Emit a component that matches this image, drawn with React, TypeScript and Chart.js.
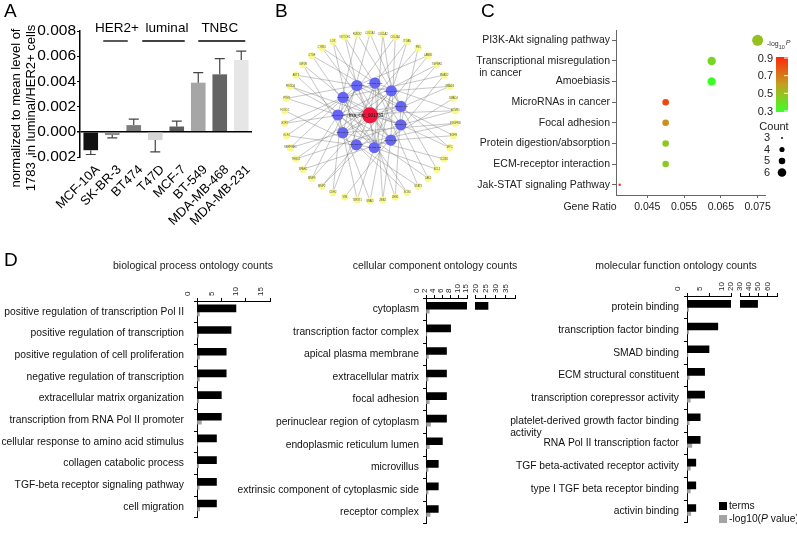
import React, { useEffect, useRef } from 'react';
import { Chart, registerables } from 'chart.js';

Chart.register(...registerables);

const FONT = 'Arial, "Liberation Sans", Helvetica, sans-serif';
Chart.defaults.font.family = FONT;
Chart.defaults.color = '#000';

// ---------------- Panel A data ----------------
const cellLines = ['MCF-10A', 'SK-BR-3', 'BT474', 'T47D', 'MCF-7', 'BT-549', 'MDA-MB-468', 'MDA-MB-231'];
const expression = [-0.00146, -0.00026, 0.00053, -0.00066, 0.00042, 0.0039, 0.00456, 0.0057];
const expressionErr = [0.00034, 0.00022, 0.00047, 0.00094, 0.00043, 0.0008, 0.00124, 0.0007];
const barColors = ['#111111', '#8c8c8c', '#7c7c7c', '#d6d6d6', '#5c5c5c', '#a6a6a6', '#646464', '#e6e6e6'];
const subtypeNames = ['HER2+', 'luminal', 'TNBC'];
const subtypeFirst = [1, 3, 5];
const subtypeLast = [2, 4, 7];
const expressionTicks = [-0.002, 0, 0.002, 0.004, 0.006, 0.008];
const yTitleA = ['normalized to mean level of', '1783  in luminal/HER2+ cells'];

// ---------------- Panel B data ----------------
const circRNA = 'hsa_circ_001783';
const miRNAs = ['hsa-miR-200a', 'hsa-miR-200b', 'hsa-miR-200c', 'hsa-miR-141', 'hsa-miR-429', 'hsa-miR-205',
  'hsa-miR-182', 'hsa-miR-183', 'hsa-miR-96', 'hsa-miR-155', 'hsa-miR-21'];
const targetGenes = ['COL1A1', 'COL1A2', 'COL4A1', 'ITGA5', 'FN1', 'LAMB1', 'TGFBR1', 'SMAD2', 'SMAD3', 'SMAD4',
  'ACVR1', 'PDGFRB', 'EGFR', 'MYC', 'CCND1', 'BCL2', 'JAK1', 'STAT3', 'SOX4', 'ZEB1', 'ZEB2', 'SNAI1', 'TWIST1',
  'VIM', 'CDH2', 'MMP2', 'MMP9', 'SPARC', 'THBS1', 'SERPINE1', 'KLF4', 'E2F3', 'FOXO1', 'PTEN', 'PIK3CA', 'AKT3',
  'IGF1R', 'CTGF', 'CYR61', 'LOX', 'NOTCH1', 'RUNX2'];
const geneLinks = [
  [3, 8], [2, 6], [5, 9], [1, 6], [4, 8], [0, 7], [3, 9], [5, 10], [2, 8], [6],
  [1, 4, 9], [7, 8], [0, 5], [3, 10], [8], [2, 6], [4, 9], [1, 7], [7, 10], [0, 3],
  [5, 1], [2, 9], [6, 8], [4], [1, 10], [3, 7], [0, 2], [5, 9], [2, 4], [8, 0],
  [6, 10], [1, 3], [7], [0, 9], [4, 5], [2, 6], [8, 10], [3, 6], [1, 5], [5, 7],
  [0, 4], [9, 3]
];

// ---------------- Panel C data ----------------
const pathways = ['PI3K-Akt signaling pathway', 'Transcriptional misregulation\nin cancer', 'Amoebiasis',
  'MicroRNAs in cancer', 'Focal adhesion', 'Protein digestion/absorption', 'ECM-receptor interaction',
  'Jak-STAT signaling Pathway'];
const geneRatio = [0.075, 0.0625, 0.0625, 0.05, 0.05, 0.05, 0.05, 0.0375];
const pathwayCount = [6, 5, 5, 4, 4, 4, 4, 3];
const pathwayLogP = [0.5, 0.43, 0.3, 0.82, 0.64, 0.47, 0.47, 0.9];
const ratioTicks = [0.045, 0.055, 0.065, 0.075];
const logPTicks = [0.9, 0.7, 0.5, 0.3];
const countLegend = [3, 4, 5, 6];

// ---------------- Panel D data ----------------
const bpTerms = ['positive regulation of transcription Pol II', 'positive regulation of transcription',
  'positive regulation of cell proliferation', 'negative regulation of transcription',
  'extracellular matrix organization', 'transcription from RNA Pol II promoter',
  'cellular response to amino acid stimulus', 'collagen catabolic process',
  'TGF-beta receptor signaling pathway', 'cell migration'];
const bpCounts = [8, 7, 6, 6, 5, 5, 4, 4, 4, 4];
const bpLogP = [0.5, 0.35, 0.5, 0.5, 0.35, 0.9, 0.15, 0.35, 0.45, 0.55];

const ccTerms = ['cytoplasm', 'transcription factor complex', 'apical plasma membrane', 'extracellular matrix',
  'focal adhesion', 'perinuclear region of cytoplasm', 'endoplasmic reticulum lumen', 'microvillus',
  'extrinsic component of cytoplasmic side', 'receptor complex'];
const ccCounts = [21.5, 6, 5, 5, 5, 5, 4, 3, 3, 3];
const ccLogP = [0.8, 0.2, 0.6, 0.5, 0.8, 1.1, 0.8, 0.5, 0.5, 1.0];

const mfTerms = ['protein binding', 'transcription factor binding', 'SMAD binding', 'ECM structural constituent',
  'transcription corepressor activity', 'platelet-derived growth factor binding\nactivity',
  'RNA Pol II transcription factor', 'TGF beta-activated receptor activity', 'type I TGF beta receptor binding',
  'activin binding'];
const mfCounts = [39, 7, 5, 4, 4, 3, 3, 2, 2, 2];
const mfLogP = [0.35, 0.35, 0.2, 0.5, 0.75, 0.5, 1.1, 0.75, 0.75, 0.85];

const legendD = ['terms', '-log10(P value)'];

// ---------------- helpers ----------------
const fnt = (size: number, style = '') => `${style} ${size}px ${FONT}`.trim();

function text(ctx: any, s: string, x: number, y: number, size: number, align = 'left', base = 'middle', color = '#000', style = '') {
  ctx.save();
  ctx.font = fnt(size, style);
  ctx.fillStyle = color;
  ctx.textAlign = align;
  ctx.textBaseline = base;
  ctx.fillText(s, x, y);
  ctx.restore();
}

const GREEN = [60, 255, 40];
const MID = [195, 160, 30];
const RED = [255, 40, 10];
function logPColor(v: number) {
  const t = Math.max(0, Math.min(1, (v - 0.3) / 0.6));
  let a = GREEN, b = MID, u = t * 2;
  if (t > 0.5) { a = MID; b = RED; u = (t - 0.5) * 2; }
  const c = a.map((x, i) => Math.round(x + (b[i] - x) * u));
  return `rgb(${c[0]},${c[1]},${c[2]})`;
}
function countRadius(c: number) {
  return c <= 3 ? 1.2 : c === 4 ? 3.3 : c === 5 ? 4.2 : 5.5;
}

const base = (extra: any) => ({
  responsive: false,
  animation: false,
  events: [],
  devicePixelRatio: 1,
  plugins: { legend: { display: false }, tooltip: { enabled: false }, title: { display: false } },
  ...extra,
});

// ---------------- Panel A ----------------
// pixel offsets of the subtype bracket ends relative to the first/last bar centres
const bracketOffsets = [[-9, -6], [-13, 8], [0, 4]];
const bracketLabelShift = [-6, 1, 0];

const panelAPlugin = {
  id: 'panelA',
  afterDatasetsDraw(chart: any) {
    const ctx = chart.ctx;
    const meta = chart.getDatasetMeta(0);
    const ys = chart.scales.y;
    ctx.save();
    ctx.strokeStyle = '#444';
    ctx.lineWidth = 1.2;
    meta.data.forEach((bar: any, i: number) => {
      const v = expression[i];
      const end = v >= 0 ? v + expressionErr[i] : v - expressionErr[i];
      const y0 = ys.getPixelForValue(v);
      const y1 = ys.getPixelForValue(end);
      ctx.beginPath();
      ctx.moveTo(bar.x, y0); ctx.lineTo(bar.x, y1);
      ctx.moveTo(bar.x - 5, y1); ctx.lineTo(bar.x + 5, y1);
      ctx.stroke();
    });
    ctx.restore();
  },
  afterDraw(chart: any) {
    const ctx = chart.ctx;
    const meta = chart.getDatasetMeta(0);
    text(ctx, 'A', 4, 2, 19, 'left', 'top');
    subtypeNames.forEach((g, i) => {
      const xa = meta.data[subtypeFirst[i]].x;
      const xb = meta.data[subtypeLast[i]].x;
      const x1 = xa + bracketOffsets[i][0];
      const x2 = xb + bracketOffsets[i][1];
      ctx.save();
      ctx.strokeStyle = '#000'; ctx.lineWidth = 1.3;
      ctx.beginPath(); ctx.moveTo(x1, 41); ctx.lineTo(x2, 41); ctx.stroke();
      ctx.restore();
      text(ctx, g, (xa + xb) / 2 + bracketLabelShift[i], 28, 13.5, 'center', 'middle');
    });
    ctx.save();
    ctx.font = fnt(13);
    ctx.fillStyle = '#000';
    ctx.textAlign = 'center';
    ctx.textBaseline = 'middle';
    [16, 31].forEach((x, i) => {
      ctx.save();
      ctx.translate(x, 108);
      ctx.rotate(-Math.PI / 2);
      ctx.fillText(yTitleA[i], 0, 0);
      ctx.restore();
    });
    ctx.restore();
  },
};

const isZero = (c: any) => c.tick && Math.abs(c.tick.value) < 1e-9;

function configA() {
  return {
    type: 'bar',
    data: {
      labels: cellLines,
      datasets: [{ data: expression, backgroundColor: barColors, borderWidth: 0, categoryPercentage: 1, barPercentage: 0.68 }],
    },
    options: base({
      layout: { padding: { left: 0, right: 13, top: 31, bottom: 0 } },
      scales: {
        x: {
          grid: { display: false, drawTicks: false },
          border: { display: false },
          ticks: { minRotation: 45, maxRotation: 45, autoSkip: false, font: { size: 13 }, padding: 5, labelOffset: 7 },
          afterFit: (s: any) => { s.height = 105; },
        },
        y: {
          min: -0.002, max: 0.008,
          afterBuildTicks: (s: any) => { s.ticks = expressionTicks.map(v => ({ value: v })); },
          ticks: { font: { size: 15.5 }, padding: 1, callback: (v: any) => Number(v).toFixed(3) },
          grid: {
            color: (c: any) => (isZero(c) ? '#000' : 'rgba(0,0,0,0)'),
            lineWidth: (c: any) => (isZero(c) ? 1.5 : 1),
            tickColor: '#000', tickLength: 3, drawTicks: true,
          },
          border: { display: true, color: '#000', width: 1.5 },
          afterFit: (s: any) => { s.width = 80; },
        },
      },
    }),
    plugins: [panelAPlugin],
  };
}

// ---------------- Panel B ----------------
const RX = 1.023, RY = 0.99, RM = 0.385, CY = 0.02;
const genePos = targetGenes.map((_, j) => {
  const a = (90 - (j * 360) / targetGenes.length) * Math.PI / 180;
  return { x: RX * Math.cos(a), y: RY * Math.sin(a) };
});
const miPos = miRNAs.map((_, k) => {
  const a = (114 - (k * 360) / miRNAs.length) * Math.PI / 180;
  return { x: RM * Math.cos(a), y: CY + RM * Math.sin(a) };
});
const edgePts: any[] = [];
miPos.forEach(p => { edgePts.push({ x: 0, y: CY }, p, { x: NaN, y: NaN }); });
geneLinks.forEach((links, j) => {
  links.forEach(k => { edgePts.push(genePos[j], miPos[k], { x: NaN, y: NaN }); });
});

const panelBPlugin = {
  id: 'panelB',
  afterDatasetsDraw(chart: any) {
    const ctx = chart.ctx;
    const xs = chart.scales.x, ys = chart.scales.y;
    genePos.forEach((p, j) => text(ctx, targetGenes[j], xs.getPixelForValue(p.x), ys.getPixelForValue(p.y), 2.6, 'center', 'middle', '#555'));
    miPos.forEach((p, k) => text(ctx, miRNAs[k], xs.getPixelForValue(p.x), ys.getPixelForValue(p.y), 2.4, 'center', 'middle', '#222'));
    text(ctx, circRNA, xs.getPixelForValue(0) - 4, ys.getPixelForValue(CY), 4.5, 'center', 'middle', '#111');
  },
  afterDraw(chart: any) {
    text(chart.ctx, 'B', 5, 2, 19, 'left', 'top');
  },
};

function configB() {
  return {
    type: 'scatter',
    data: {
      datasets: [
        { data: [{ x: 0, y: CY }], pointRadius: 8, pointBackgroundColor: '#f2143c', pointBorderWidth: 0 },
        { data: miPos, pointRadius: 5.6, pointBackgroundColor: '#6565f2', pointBorderWidth: 0 },
        { data: genePos, pointRadius: 3.6, pointBackgroundColor: '#fafa8c', pointBorderWidth: 0 },
        { data: edgePts, showLine: true, spanGaps: false, pointRadius: 0, borderColor: 'rgba(120,120,120,0.7)', borderWidth: 0.6 },
      ],
    },
    options: base({
      layout: { padding: 0 },
      scales: {
        x: { display: false, min: -1.1, max: 1.1 },
        y: { display: false, min: -1.287, max: 1.287 },
      },
    }),
    plugins: [panelBPlugin],
  };
}

// ---------------- Panel C ----------------
const panelCPlugin = {
  id: 'panelC',
  afterDraw(chart: any) {
    const ctx = chart.ctx;
    const ys = chart.scales.y;
    text(ctx, 'C', 41, 2, 19, 'left', 'top');
    pathways.forEach((p, i) => {
      const parts = p.split('\n');
      if (parts.length > 1) {
        ctx.save();
        ctx.font = fnt(10.5);
        const right = ys.right - 4 - 2;
        const left = right - ctx.measureText(parts[0]).width;
        ctx.restore();
        text(ctx, parts[1], left + 3, ys.getPixelForValue(i) + 12, 10.5, 'left', 'middle', '#222');
      }
    });
    text(ctx, 'Gene Ratio', 150, 202, 10.5, 'center', 'top', '#222');
    text(ctx, '-log', 327, 44, 7, 'left', 'middle', '#333');
    ctx.save(); ctx.font = fnt(7); const w1 = ctx.measureText('-log').width; ctx.restore();
    text(ctx, '10', 327 + w1, 47, 5.5, 'left', 'middle', '#333');
    text(ctx, 'P', 327 + w1 + 7, 43, 7, 'left', 'middle', '#333', 'italic');
    const g = ctx.createLinearGradient(0, 57, 0, 112);
    [0.9, 0.75, 0.6, 0.45, 0.3].forEach((v, i) => g.addColorStop(i / 4, logPColor(v)));
    ctx.save();
    ctx.fillStyle = g;
    ctx.fillRect(336, 57, 12, 55);
    ctx.strokeStyle = '#fff'; ctx.lineWidth = 1;
    logPTicks.forEach((v) => {
      const y = 57 + ((0.9 - v) / 0.6) * 53 + 1;
      ctx.beginPath(); ctx.moveTo(344, y); ctx.lineTo(348, y); ctx.stroke();
      text(ctx, v.toFixed(1), 333, y + 0.5, 11, 'right', 'middle', '#222');
    });
    ctx.restore();
    text(ctx, 'Count', 334, 127, 11, 'center', 'middle', '#222');
    countLegend.forEach((c, i) => {
      const y = 138 + i * 11.5;
      text(ctx, String(c), 327, y, 11, 'center', 'middle', '#222');
      ctx.save();
      ctx.fillStyle = '#000';
      ctx.beginPath(); ctx.arc(342, y, countRadius(c) * 0.78, 0, Math.PI * 2); ctx.fill();
      ctx.restore();
    });
  },
};

function configC() {
  return {
    type: 'scatter',
    data: {
      datasets: [{
        data: geneRatio.map((r, i) => ({ x: r, y: i })),
        pointRadius: (c: any) => countRadius(pathwayCount[c.dataIndex]),
        pointBackgroundColor: (c: any) => logPColor(pathwayLogP[c.dataIndex]),
        pointBorderWidth: 0,
      }],
    },
    options: base({
      layout: { padding: { left: 0, right: 32, top: 30, bottom: 0 } },
      scales: {
        x: {
          type: 'linear', min: 0.0365, max: 0.077,
          afterBuildTicks: (s: any) => { s.ticks = ratioTicks.map(v => ({ value: v })); },
          ticks: { font: { size: 10.5 }, color: '#222', maxRotation: 0, padding: 3, callback: (v: any) => Number(v).toFixed(3) },
          grid: { display: true, drawOnChartArea: false, drawTicks: true, tickLength: 3, color: '#666' },
          border: { color: '#666', width: 1 },
          afterFit: (s: any) => { s.height = 25; },
        },
        y: {
          type: 'category',
          labels: pathways.map(p => p.split('\n')[0]),
          offset: true,
          ticks: { font: { size: 10.5 }, color: '#222', padding: 2, autoSkip: false },
          grid: { display: true, drawOnChartArea: false, tickLength: 4, color: '#666' },
          border: { color: '#666', width: 1 },
          afterFit: (s: any) => { s.width = 176; },
        },
      },
    }),
    plugins: [panelCPlugin],
  };
}

// ---------------- Panel D ----------------
function ontologyConfig(p: any) {
  return {
    type: 'bar',
    data: {
      labels: p.terms.map((t: string) => t.split('\n')[0]),
      datasets: [
        { label: legendD[0], data: p.counts, backgroundColor: '#000', barThickness: 7, clip: 0 },
        { label: legendD[1], data: p.logP, backgroundColor: '#a3a3a3', barThickness: 4, clip: 0 },
      ],
    },
    options: base({
      indexAxis: 'y',
      layout: { padding: p.padding },
      scales: {
        x: {
          position: 'top', min: p.min, max: p.max,
          ticks: { stepSize: p.step, font: { size: 8 }, color: '#222', minRotation: 90, maxRotation: 90, padding: 2, autoSkip: false },
          grid: { drawOnChartArea: false, tickLength: 3, color: '#000' },
          border: { color: '#000', width: 1 },
          afterFit: (s: any) => { s.height = p.xHeight; },
        },
        y: {
          display: p.showY,
          ticks: { font: { size: 10.3 }, color: '#111', padding: p.labelPad, autoSkip: false },
          grid: { drawOnChartArea: false, tickLength: 3, color: '#000' },
          border: { color: '#000', width: 1 },
          afterFit: (s: any) => { s.width = p.yWidth; },
        },
      },
    }),
    plugins: p.plugins || [],
  };
}

function secondLinePlugin(terms: string[], labelPad: number) {
  return {
    id: 'secondLine',
    afterDraw(chart: any) {
      const ctx = chart.ctx;
      const ys = chart.scales.y;
      terms.forEach((t, i) => {
        const parts = t.split('\n');
        if (parts.length > 1) {
          ctx.save(); ctx.font = fnt(10.3);
          const right = ys.right - 3 - labelPad;
          const left = right - ctx.measureText(parts[0]).width;
          ctx.restore();
          text(ctx, parts[1], left, ys.getPixelForValue(i) + 12, 10.3, 'left', 'middle', '#111');
        }
      });
    },
  };
}

const titleD1 = {
  id: 'titleD1',
  afterDraw(chart: any) {
    text(chart.ctx, 'D', 4, 11, 19, 'left', 'top');
    text(chart.ctx, 'biological process ontology counts', 193, 26, 10.5, 'center', 'middle', '#222');
  },
};
const titleD2 = {
  id: 'titleD2',
  afterDraw(chart: any) {
    text(chart.ctx, 'cellular component ontology counts', 95, 26, 10.5, 'center', 'middle', '#222');
  },
};
const titleD3 = {
  id: 'titleD3',
  afterDraw(chart: any) {
    const ctx = chart.ctx;
    text(ctx, 'molecular function ontology counts', 86, 26, 10.5, 'center', 'middle', '#222');
    ctx.save();
    ctx.fillStyle = '#000'; ctx.fillRect(129, 262, 8, 8);
    ctx.fillStyle = '#a3a3a3'; ctx.fillRect(129, 275, 8, 8);
    ctx.restore();
    text(ctx, legendD[0], 139, 266, 10.3, 'left', 'middle', '#111');
    const parts = ['-log10(', 'P', ' value)'];
    let x = 139;
    parts.forEach((s, i) => {
      const style = i === 1 ? 'italic' : '';
      text(ctx, s, x, 279, 10.3, 'left', 'middle', '#111', style);
      ctx.save(); ctx.font = fnt(10.3, style); x += ctx.measureText(s).width; ctx.restore();
    });
  },
};

const PANELS = [
  { left: 0, top: 0, w: 265, h: 262, cfg: configA },
  { left: 270, top: 0, w: 200, h: 234, cfg: configB },
  { left: 440, top: 0, w: 357, h: 220, cfg: configC },
  {
    left: 0, top: 240, w: 285, h: 294, cfg: () => ontologyConfig({
      terms: bpTerms, counts: bpCounts, logP: bpLogP, min: 0, max: 15, step: 5, showY: true,
      padding: { left: 0, right: 15, top: 0, bottom: 11 }, yWidth: 197, xHeight: 61, labelPad: 10,
      plugins: [titleD1],
    }),
  },
  {
    left: 225, top: 240, w: 250, h: 294, cfg: () => ontologyConfig({
      terms: ccTerms, counts: ccCounts, logP: ccLogP, min: 0, max: 10, step: 2, showY: true,
      padding: { left: 0, right: 8, top: 0, bottom: 7 }, yWidth: 201, xHeight: 58, labelPad: 4,
      plugins: [secondLinePlugin(ccTerms, 4)],
    }),
  },
  {
    left: 340, top: 240, w: 190, h: 294, cfg: () => ontologyConfig({
      terms: ccTerms, counts: ccCounts, logP: ccLogP, min: 15, max: 35, step: 5, showY: false,
      padding: { left: 135, right: 15, top: 0, bottom: 7 }, yWidth: 0, xHeight: 58, labelPad: 4,
      plugins: [titleD2],
    }),
  },
  {
    left: 500, top: 240, w: 240, h: 294, cfg: () => ontologyConfig({
      terms: mfTerms, counts: mfCounts, logP: mfLogP, min: 0, max: 10, step: 5, showY: true,
      padding: { left: 0, right: 9, top: 0, bottom: 9 }, yWidth: 187, xHeight: 56, labelPad: 5,
      plugins: [secondLinePlugin(mfTerms, 5)],
    }),
  },
  {
    left: 590, top: 240, w: 207, h: 294, cfg: () => ontologyConfig({
      terms: mfTerms, counts: mfCounts, logP: mfLogP, min: 20, max: 60, step: 10, showY: false,
      padding: { left: 150, right: 20, top: 0, bottom: 9 }, yWidth: 0, xHeight: 56, labelPad: 5,
      plugins: [titleD3],
    }),
  },
];

export default function App() {
  const refs = useRef<(HTMLCanvasElement | null)[]>([]);
  useEffect(() => {
    const charts = PANELS.map((p, i) => new Chart(refs.current[i] as HTMLCanvasElement, p.cfg() as any));
    return () => charts.forEach(c => c.destroy());
  }, []);
  return (
    <div style={{ position: 'absolute', left: 0, top: 0, width: 797, height: 534, background: '#fff', overflow: 'hidden' }}>
      {PANELS.map((p, i) => (
        <canvas
          key={i}
          ref={el => { refs.current[i] = el; }}
          width={p.w}
          height={p.h}
          style={{ position: 'absolute', left: p.left, top: p.top, width: p.w, height: p.h }}
        />
      ))}
    </div>
  );
}
